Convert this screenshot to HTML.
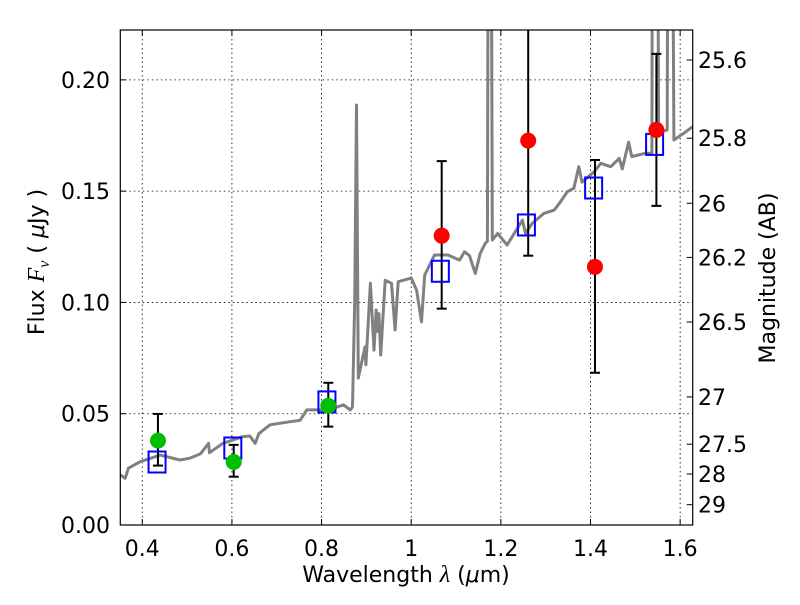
<!DOCTYPE html>
<html><head><meta charset="utf-8"><style>
body{margin:0;background:#fff}
svg text{font-family:"DejaVu Sans","Liberation Sans",sans-serif;}
</style></head><body>
<svg id="chart" width="800" height="600" viewBox="0 0 800 600" xmlns="http://www.w3.org/2000/svg">
<defs><clipPath id="plotclip"><rect x="120.3" y="30" width="572.4" height="495"/></clipPath></defs>
<rect x="0" y="0" width="800" height="600" fill="#fff"/>
<g id="grid"></g>
<g id="spec" clip-path="url(#plotclip)"></g>
<g id="marks" clip-path="url(#plotclip)"></g>
<rect x="120.3" y="30" width="572.4" height="495" fill="none" stroke="#000" stroke-width="1.2"/>
<g id="axes"></g>
<text x="44" y="262" font-size="22" text-anchor="middle" transform="rotate(-90 44 262)">Flux  <tspan font-style="italic" font-family="Liberation Serif, serif" font-size="24">F</tspan><tspan font-style="italic" font-size="16" dy="5" font-family="Liberation Serif, serif">ν</tspan><tspan dy="-5">  (  </tspan><tspan font-style="italic">μ</tspan>Jy )</text>
<text x="406" y="582" font-size="22" text-anchor="middle">Wavelength  <tspan font-style="italic" font-family="Liberation Serif, serif" font-size="24">λ</tspan> (<tspan font-style="italic">μ</tspan>m)</text>
<text x="775" y="278" font-size="22" text-anchor="middle" transform="rotate(-90 775 278)">Magnitude (AB)</text>
</svg>
<script>
const xTicks=[0.4,0.6,0.8,1.0,1.2,1.4,1.6];
const xTickLabels=["0.4","0.6","0.8","1","1.2","1.4","1.6"];
const yTicks=[0,0.05,0.10,0.15,0.20];
const yTickLabels=["0.00","0.05","0.10","0.15","0.20"];
const magTicks=[25.6,25.8,26,26.2,26.5,27,27.5,28,29];
const magTickLabels=["25.6","25.8","26","26.2","26.5","27","27.5","28","29"];
const specWave=[0.351,0.362,0.369,0.395,0.44,0.484,0.506,0.53,0.548,0.55,0.58,0.625,0.64,0.652,0.66,0.685,0.73,0.752,0.767,0.804,0.82,0.849,0.864,0.869,0.874,0.878,0.882,0.897,0.899,0.909,0.917,0.922,0.925,0.928,0.932,0.942,0.956,0.964,0.971,0.997,1.0,1.012,1.023,1.03,1.052,1.082,1.108,1.119,1.13,1.143,1.154,1.165,1.17,1.173,1.177,1.181,1.193,1.214,1.237,1.248,1.255,1.27,1.296,1.319,1.333,1.348,1.363,1.374,1.381,1.408,1.423,1.445,1.464,1.471,1.485,1.492,1.522,1.537,1.539,1.548,1.552,1.571,1.574,1.58,1.586,1.608,1.628];
const specFlux=[0.0225,0.021,0.0255,0.0284,0.0314,0.0292,0.030,0.032,0.0367,0.0325,0.0367,0.0397,0.040,0.0367,0.041,0.045,0.0464,0.047,0.0517,0.0517,0.052,0.054,0.0517,0.053,0.10,0.1887,0.066,0.080,0.072,0.1086,0.0786,0.0966,0.087,0.095,0.0764,0.110,0.1086,0.0876,0.1093,0.1108,0.111,0.1055,0.0913,0.1123,0.1213,0.1213,0.119,0.1228,0.121,0.113,0.122,0.1265,0.1275,0.40,0.40,0.128,0.131,0.1258,0.1333,0.137,0.131,0.1355,0.140,0.1415,0.1452,0.1497,0.1513,0.161,0.154,0.1587,0.1625,0.161,0.1647,0.160,0.172,0.1655,0.167,0.167,0.40,0.40,0.176,0.1775,0.40,0.40,0.173,0.176,0.179];
const modelWave=[0.433,0.602,0.812,1.065,1.257,1.407,1.543];
const modelFlux=[0.0283,0.0346,0.0553,0.114,0.1348,0.1514,0.171];
const obsWave=[0.435,0.604,0.815,1.068,1.261,1.41,1.547];
const obsFlux=[0.0379,0.0283,0.0536,0.130,0.1727,0.116,0.1775];
const obsLow=[0.0267,0.0217,0.0442,0.0972,0.121,0.0684,0.1434];
const obsHigh=[0.0499,0.036,0.0639,0.1635,0.30,0.164,0.2117];
const obsColor=["#00bf00","#00bf00","#00bf00","#ff0000","#ff0000","#ff0000","#ff0000"];

const X0=120.3,X1=692.7,Y0=525,Y1=30,XMIN=0.351,XMAX=1.628,YMIN=0,YMAX=0.2224;
const sx=v=>X0+(v-XMIN)/(XMAX-XMIN)*(X1-X0);
const sy=v=>Y0-(v-YMIN)/(YMAX-YMIN)*(Y0-Y1);
const magToFlux=m=>Math.pow(10,(23.9-m)/2.5);
const NS="http://www.w3.org/2000/svg";
function mk(tag,attrs,parent){const e=document.createElementNS(NS,tag);for(const k in attrs)e.setAttribute(k,attrs[k]);parent.appendChild(e);return e;}
const grid=document.getElementById('grid'),axes=document.getElementById('axes'),spec=document.getElementById('spec'),marks=document.getElementById('marks');

xTicks.forEach((t,i)=>{const x=sx(t);
 const g=mk('line',{x1:x,x2:x,y1:Y1,y2:Y0,stroke:'#000','stroke-width':0.8,'stroke-dasharray':'1.5,3'},grid);
 
 
 mk('line',{x1:x,x2:x,y1:Y0,y2:Y0-6,stroke:'#000','stroke-width':1},axes);
 mk('line',{x1:x,x2:x,y1:Y1,y2:Y1+6,stroke:'#000','stroke-width':1},axes);
 const tx=mk('text',{x:x,y:556,'font-size':22,'text-anchor':'middle'},axes);tx.textContent=xTickLabels[i];
 
 
});
yTicks.forEach((t,i)=>{const y=sy(t);
 const g=mk('line',{x1:X0,x2:X1,y1:y,y2:y,stroke:'#000','stroke-width':0.8,'stroke-dasharray':'1.5,3'},grid);
 
 
 mk('line',{x1:X0,x2:X0+6,y1:y,y2:y,stroke:'#000','stroke-width':1},axes);
 const tx=mk('text',{x:110,y:y+8,'font-size':22,'text-anchor':'end'},axes);tx.textContent=yTickLabels[i];
 
 
});
magTicks.forEach((m,i)=>{const y=sy(magToFlux(m));
 mk('line',{x1:X1-6,x2:X1,y1:y,y2:y,stroke:'#000','stroke-width':1},axes);
 const tx=mk('text',{x:698,y:y+8,'font-size':22,'text-anchor':'start'},axes);tx.textContent=magTickLabels[i];
 
 
});
const pts=specWave.map((w,i)=>sx(w).toFixed(1)+','+sy(specFlux[i]).toFixed(1)).join(' ');
const pl=mk('polyline',{points:pts,fill:'none',stroke:'#808080','stroke-width':3,'stroke-linejoin':'round'},spec);


obsWave.forEach((w,i)=>{const x=sx(w),yl=sy(obsLow[i]),yh=sy(obsHigh[i]);
 const e=mk('g',{},marks);
 
 
 mk('line',{x1:x,x2:x,y1:yl,y2:yh,stroke:'#000','stroke-width':2},e);
 mk('line',{x1:x-5,x2:x+5,y1:yl,y2:yl,stroke:'#000','stroke-width':2},e);
 mk('line',{x1:x-5,x2:x+5,y1:yh,y2:yh,stroke:'#000','stroke-width':2},e);
});
modelWave.forEach((w,i)=>{const x=sx(w),y=sy(modelFlux[i]);
 const r=mk('rect',{x:x-8.5,y:y-10.5,width:17,height:21,fill:'none',stroke:'#0000ff','stroke-width':2},marks);
 
 
});
obsWave.forEach((w,i)=>{
 const c=mk('circle',{cx:sx(w),cy:sy(obsFlux[i]),r:8,fill:obsColor[i]},marks);
 
 
});
</script>
</body></html>
